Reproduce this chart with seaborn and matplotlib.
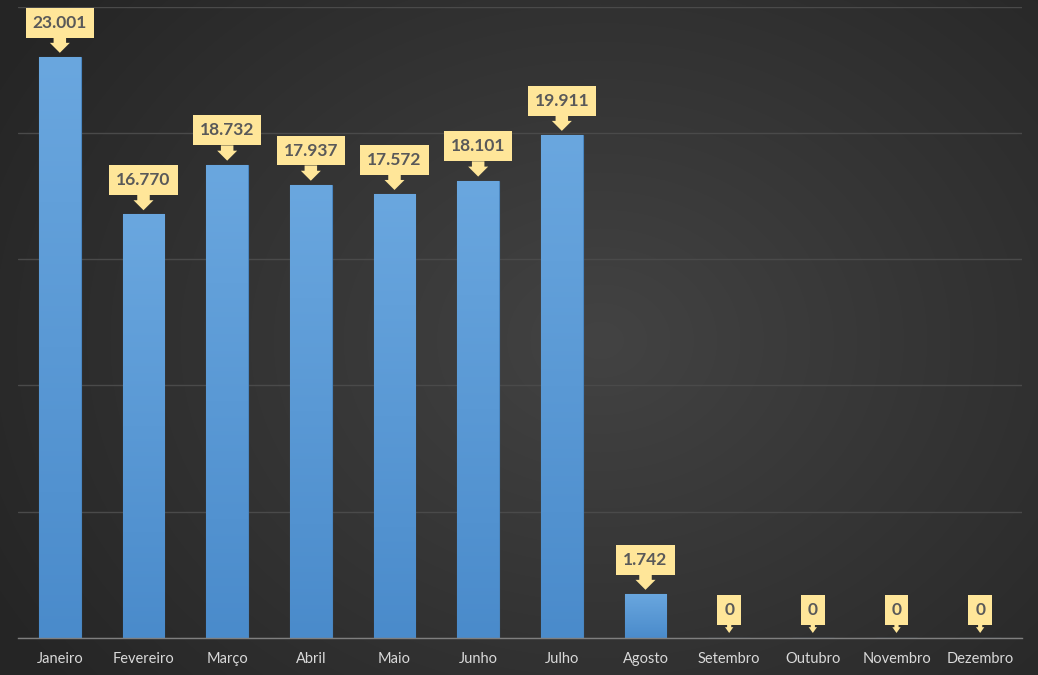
import numpy as np
import pandas as pd
import seaborn as sns
import matplotlib.pyplot as plt
from matplotlib.colors import LinearSegmentedColormap

meses = ["Janeiro", "Fevereiro", "Março", "Abril", "Maio", "Junho",
         "Julho", "Agosto", "Setembro", "Outubro", "Novembro", "Dezembro"]
valores = [23001, 16770, 18732, 17937, 17572, 18101, 19911, 1742, 0, 0, 0, 0]
rotulos = ["23.001", "16.770", "18.732", "17.937", "17.572", "18.101",
           "19.911", "1.742", "0", "0", "0", "0"]

BAR = "#5B9BD5"
CALLOUT = "#FFE699"

sns.set_style("dark")
plt.rcParams["font.family"] = ["Lato", "DejaVu Sans"]

fig = plt.figure(figsize=(10.38, 6.75), dpi=100)

# radial gradient background
bg = fig.add_axes([0, 0, 1, 1], zorder=0)
yy, xx = np.mgrid[0:675, 0:1038]
r = np.hypot((xx - 600) / 700, (yy - 340) / 560)
r = np.clip(r, 0, 1)
inner = np.array([0x43, 0x43, 0x43]) / 255
outer = np.array([0x25, 0x25, 0x25]) / 255
img = inner[None, None, :] * (1 - r[..., None]) + outer[None, None, :] * r[..., None]
bg.imshow(img, aspect="auto", extent=[0, 1, 0, 1])
bg.set_axis_off()

ax = fig.add_axes([18 / 1038, 1 - 638 / 675, 1004 / 1038, (638 - 6.5) / 675], zorder=1)
ax.patch.set_alpha(0)

df = pd.DataFrame({"mes": meses, "valor": valores})
sns.barplot(data=df, x="mes", y="valor", color=BAR, width=0.5, saturation=1,
            edgecolor="#4a86c0", linewidth=0.8, ax=ax)

# subtle vertical gradient on bars
grad = np.linspace(0, 1, 256)[:, None]
cmap = LinearSegmentedColormap.from_list("g", ["#6aa7df", "#4a8bcb"])
for p in ax.patches:
    h = p.get_height()
    if h <= 0:
        continue
    x0 = p.get_x()
    w = p.get_width()
    im = ax.imshow(grad, cmap=cmap, aspect="auto",
                   extent=[x0, x0 + w, 0, h], origin="upper", zorder=2)
    im.set_clip_path(p)

ax.set_xlim(-0.5, 11.5)
ax.set_ylim(0, 25000)
ax.set_yticks(np.arange(0, 25001, 5000))
ax.set_yticklabels([])
ax.tick_params(axis="y", length=0)
ax.grid(axis="y", color="#4a4a4a", linewidth=1)
ax.grid(axis="x", visible=False)
ax.set_axisbelow(True)

ax.set_xticks(range(12))
ax.set_xticklabels(meses, color="#d9d9d9", fontsize=10.5)
ax.tick_params(axis="x", which="major", length=0, pad=10)
ax.set_xticks(np.arange(-0.5, 12, 1), minor=True)
ax.tick_params(axis="x", which="minor", length=5, color="#7f7f7f", width=1)
ax.set_xlabel("")
ax.set_ylabel("")

for side in ["top", "right", "left"]:
    ax.spines[side].set_visible(False)
ax.spines["bottom"].set_color("#7f7f7f")
ax.spines["bottom"].set_linewidth(1)

for i, (v, lab) in enumerate(zip(valores, rotulos)):
    if v > 0:
        style = "simple,head_length=0.6,head_width=1.2,tail_width=0.75"
        off, shrink = 19, 3
    else:
        style = "simple,head_length=0.35,head_width=0.5,tail_width=0.25"
        off, shrink = 14.5, 3.6
    ax.annotate(lab, xy=(i, v), xytext=(0, off), textcoords="offset points",
                ha="center", va="bottom", fontsize=12.5, fontweight="bold",
                color="#595959", zorder=5,
                bbox=dict(boxstyle="square,pad=0.4", fc=CALLOUT, ec="none"),
                arrowprops=dict(arrowstyle=style, fc=CALLOUT, ec="none",
                                mutation_scale=12, shrinkA=0, shrinkB=shrink))

fig.savefig("out.png", dpi=100)
